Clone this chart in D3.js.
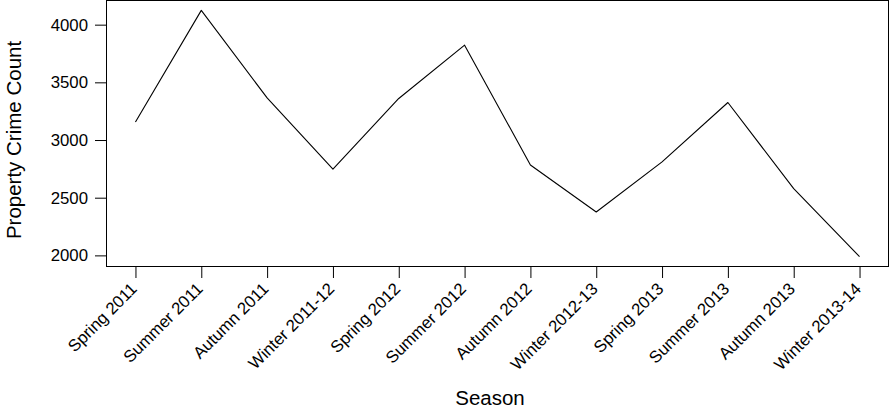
<!DOCTYPE html>
<html>
<head>
<meta charset="utf-8">
<script src="https://cdn.jsdelivr.net/npm/d3@7"></script>
<style>
  html, body { margin: 0; padding: 0; background: #fff; }
  svg { display: block; font-family: "Liberation Sans", Arial, Helvetica, sans-serif; }
</style>
</head>
<body>
<svg id="chart" width="890" height="412"></svg>
<script>
// Seasonal property crime counts
const seasons = [
  "Spring 2011", "Summer 2011", "Autumn 2011", "Winter 2011-12",
  "Spring 2012", "Summer 2012", "Autumn 2012", "Winter 2012-13",
  "Spring 2013", "Summer 2013", "Autumn 2013", "Winter 2013-14"
];
const counts = [3157, 4124, 3365, 2748, 3360, 3822, 2784, 2376, 2810, 3325, 2579, 1989];
const yTicks = [2000, 2500, 3000, 3500, 4000];

const svg = d3.select("#chart");
const box = { left: 106.5, right: 888.5, top: 0.5, bottom: 266.5 };

// index scale padded 4% on each side
const n = seasons.length;
const xPad = (n - 1) * 0.04;
const x = d3.scaleLinear()
  .domain([1 - xPad, n + xPad])
  .range([box.left, box.right]);

const yMin = d3.min(counts), yMax = d3.max(counts);
const yPad = (yMax - yMin) * 0.04;
const y = d3.scaleLinear()
  .domain([yMin - yPad, yMax + yPad])
  .range([box.bottom, box.top]);

// frame
svg.append("rect")
  .attr("x", box.left).attr("y", box.top)
  .attr("width", box.right - box.left).attr("height", box.bottom - box.top)
  .attr("fill", "none").attr("stroke", "#000").attr("stroke-width", 1);

// line
const line = d3.line()
  .x((d, i) => x(i + 1))
  .y(d => y(d));
svg.append("path")
  .datum(counts)
  .attr("d", line)
  .attr("fill", "none")
  .attr("stroke", "#000")
  .attr("stroke-width", 1.1)
  .attr("stroke-linejoin", "round");

// y axis
const yAxis = d3.axisLeft(y).tickValues(yTicks).tickSize(11).tickPadding(7).tickFormat(d3.format("d"));
const gy = svg.append("g")
  .attr("transform", `translate(${box.left - 0.5},0)`)
  .call(yAxis);
gy.select(".domain").remove();
gy.selectAll(".tick line").attr("stroke", "#000");
gy.selectAll(".tick text")
  .attr("fill", "#000")
  .style("font-size", "16.8px");

// x axis
const xAxis = d3.axisBottom(x)
  .tickValues(d3.range(1, n + 1))
  .tickSize(11)
  .tickFormat(d => seasons[d - 1]);
const gx = svg.append("g")
  .attr("transform", `translate(0,${box.bottom + 0.5})`)
  .call(xAxis);
gx.select(".domain").remove();
gx.selectAll(".tick line").attr("stroke", "#000");
gx.selectAll(".tick text")
  .attr("fill", "#000")
  .style("font-size", "16.8px")
  .attr("text-anchor", "end")
  .attr("dy", null)
  .attr("y", 0)
  .attr("transform", "translate(2,23) rotate(-45)");

// axis titles
svg.append("text")
  .attr("x", 490).attr("y", 405)
  .attr("text-anchor", "middle")
  .style("font-size", "20.5px")
  .text("Season");

svg.append("text")
  .attr("transform", "translate(21,140) rotate(-90)")
  .attr("text-anchor", "middle")
  .style("font-size", "20.5px")
  .text("Property Crime Count");
</script>
</body>
</html>
